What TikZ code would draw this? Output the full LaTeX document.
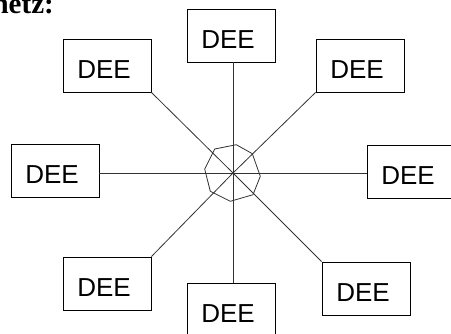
\documentclass[tikz,border=0pt]{standalone}
\usepackage{fontspec}
\setmainfont{Liberation Sans}
\newfontfamily\titlefont{Liberation Serif}
\begin{document}
\begin{tikzpicture}[x=1pt,y=-1pt,
  deebox/.style={draw=black, line width=0.8pt, fill=white, minimum width=88pt, minimum height=53pt,
    inner sep=0pt, text height=26.6pt, text depth=0pt, font=\fontsize{26}{30}\selectfont},
  conn/.style={line width=0.8pt, draw=black!80}]
\useasboundingbox (0,0) rectangle (451,333);
\node[anchor=base east, inner sep=0pt, font=\titlefont\bfseries\fontsize{29}{32}\selectfont] (title) at (54,13.5) {Sternnetz:};
\coordinate (c) at (233,173);
\node[deebox] (T)  at (231,35.5)  {DEE\kern6pt};
\node[deebox] (TL) at (107,65.5)  {DEE\kern6pt};
\node[deebox] (TR) at (360,65.5)  {DEE\kern6pt};
\node[deebox] (L)  at (55,170.5)  {DEE\kern6pt};
\node[deebox] (R)  at (411,171.5) {DEE\kern6pt};
\node[deebox] (BL) at (107,283.5) {DEE\kern6pt};
\node[deebox] (BR) at (366,288.5) {DEE\kern6pt};
\node[deebox] (B)  at (231,309.5) {DEE\kern6pt};
\draw[conn] (c) -- (T.south -| c);
\draw[conn] (c) -- (B.north -| c);
\draw[conn] (c) -- (L.east |- c);
\draw[conn] (c) -- (R.west |- c);
\draw[conn] (c) -- (TL.south east);
\draw[conn] (c) -- (TR.south west);
\draw[conn] (c) -- (BL.north east);
\draw[conn] (c) -- (BR.north west);
\draw[conn] (c) ++(3.3,-28.3) -- ++(16,9) -- ++(8,22.6) -- ++(-7.3,18.4) -- ++(-22.7,6.6)
  -- ++(-20,-10) -- ++(-5.6,-22.3) -- ++(10,-20) -- cycle;
\end{tikzpicture}
\end{document}
